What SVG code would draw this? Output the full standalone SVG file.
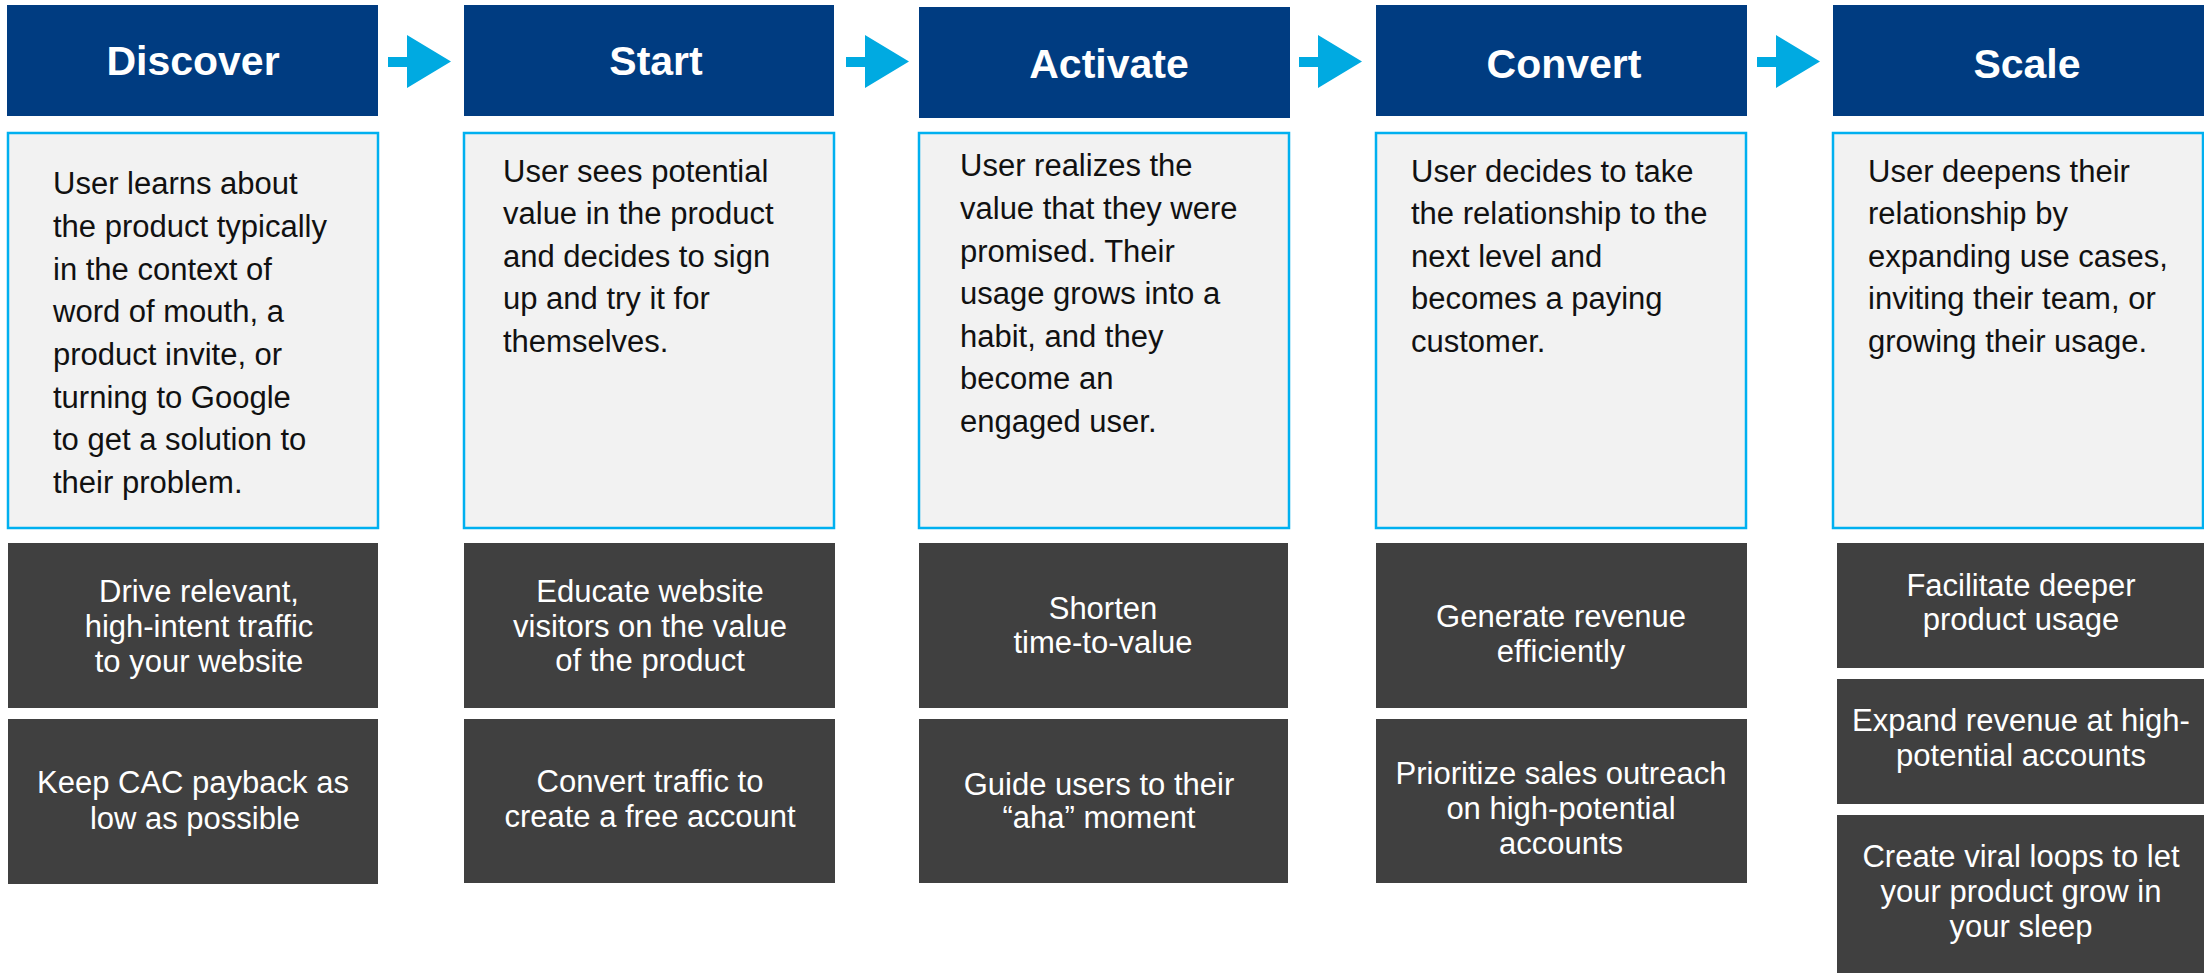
<svg xmlns="http://www.w3.org/2000/svg" width="2204" height="973" viewBox="0 0 2204 973">
<style>
.hdr{fill:#003C81}
.hdrt{fill:#ffffff;font-family:"Liberation Sans",Arial,sans-serif;font-weight:bold;font-size:41px;text-anchor:middle}
.desc{fill:#F2F2F2;stroke:#00B0F0;stroke-width:2.5}
.dt{fill:#111111;font-family:"Liberation Sans",Arial,sans-serif;font-size:31px}
.dark{fill:#404040}
.wt{fill:#ffffff;font-family:"Liberation Sans",Arial,sans-serif;font-size:31px;text-anchor:middle}
.arr{fill:#00AAE1}
</style>
<defs>
<path id="arrow" d="M0,57 H19 V35 L63,61.5 L19,88 V67 H0 Z"/>
</defs>
<rect width="2204" height="973" fill="#ffffff"/>

<g id="connectors">
<use href="#arrow" class="arr" x="388" y="0"/>
<use href="#arrow" class="arr" x="846" y="0"/>
<use href="#arrow" class="arr" x="1299" y="0"/>
<use href="#arrow" class="arr" x="1757" y="0"/>
</g>

<g id="discover">
<rect class="hdr" x="7" y="5" width="371" height="111"/>
<text class="hdrt" x="193" y="75">Discover</text>
<rect class="desc" x="8" y="133" width="370" height="395"/>
<text class="dt" x="53" y="194">User learns about</text>
<text class="dt" x="53" y="237">the product typically</text>
<text class="dt" x="53" y="280">in the context of</text>
<text class="dt" x="53" y="322">word of mouth, a</text>
<text class="dt" x="53" y="365">product invite, or</text>
<text class="dt" x="53" y="408">turning to Google</text>
<text class="dt" x="53" y="450">to get a solution to</text>
<text class="dt" x="53" y="493">their problem.</text>
<rect class="dark" x="8" y="543" width="370" height="165"/>
<text class="wt" x="199" y="602">Drive relevant,</text>
<text class="wt" x="199" y="637">high-intent traffic</text>
<text class="wt" x="199" y="672">to your website</text>
<rect class="dark" x="8" y="719" width="370" height="165"/>
<text class="wt" x="193" y="793">Keep CAC payback as</text>
<text class="wt" x="195" y="829">low as possible</text>
</g>

<g id="start">
<rect class="hdr" x="464" y="5" width="370" height="111"/>
<text class="hdrt" x="656" y="75">Start</text>
<rect class="desc" x="464" y="133" width="370" height="395"/>
<text class="dt" x="503" y="182">User sees potential</text>
<text class="dt" x="503" y="224">value in the product</text>
<text class="dt" x="503" y="267">and decides to sign</text>
<text class="dt" x="503" y="309">up and try it for</text>
<text class="dt" x="503" y="352">themselves.</text>
<rect class="dark" x="464" y="543" width="371" height="165"/>
<text class="wt" x="650" y="602">Educate website</text>
<text class="wt" x="650" y="637">visitors on the value</text>
<text class="wt" x="650" y="671">of the product</text>
<rect class="dark" x="464" y="719" width="371" height="164"/>
<text class="wt" x="650" y="792">Convert traffic to</text>
<text class="wt" x="650" y="827">create a free account</text>
</g>

<g id="activate">
<rect class="hdr" x="919" y="7" width="371" height="111"/>
<text class="hdrt" x="1109" y="78">Activate</text>
<rect class="desc" x="919" y="133" width="370" height="395"/>
<text class="dt" x="960" y="176">User realizes the</text>
<text class="dt" x="960" y="219">value that they were</text>
<text class="dt" x="960" y="262">promised. Their</text>
<text class="dt" x="960" y="304">usage grows into a</text>
<text class="dt" x="960" y="347">habit, and they</text>
<text class="dt" x="960" y="389">become an</text>
<text class="dt" x="960" y="432">engaged user.</text>
<rect class="dark" x="919" y="543" width="369" height="165"/>
<text class="wt" x="1103" y="619">Shorten</text>
<text class="wt" x="1103" y="653">time-to-value</text>
<rect class="dark" x="919" y="719" width="369" height="164"/>
<text class="wt" x="1099" y="795">Guide users to their</text>
<text class="wt" x="1099" y="828">“aha” moment</text>
</g>

<g id="convert">
<rect class="hdr" x="1376" y="5" width="371" height="111"/>
<text class="hdrt" x="1564" y="78">Convert</text>
<rect class="desc" x="1376" y="133" width="370" height="395"/>
<text class="dt" x="1411" y="182">User decides to take</text>
<text class="dt" x="1411" y="224">the relationship to the</text>
<text class="dt" x="1411" y="267">next level and</text>
<text class="dt" x="1411" y="309">becomes a paying</text>
<text class="dt" x="1411" y="352">customer.</text>
<rect class="dark" x="1376" y="543" width="371" height="165"/>
<text class="wt" x="1561" y="627">Generate revenue</text>
<text class="wt" x="1561" y="662">efficiently</text>
<rect class="dark" x="1376" y="719" width="371" height="164"/>
<text class="wt" x="1561" y="784">Prioritize sales outreach</text>
<text class="wt" x="1561" y="819">on high-potential</text>
<text class="wt" x="1561" y="854">accounts</text>
</g>

<g id="scale">
<rect class="hdr" x="1833" y="5" width="371" height="111"/>
<text class="hdrt" x="2027" y="78">Scale</text>
<rect class="desc" x="1833" y="133" width="370" height="395"/>
<text class="dt" x="1868" y="182">User deepens their</text>
<text class="dt" x="1868" y="224">relationship by</text>
<text class="dt" x="1868" y="267">expanding use cases,</text>
<text class="dt" x="1868" y="309">inviting their team, or</text>
<text class="dt" x="1868" y="352">growing their usage.</text>
<rect class="dark" x="1837" y="543" width="367" height="125"/>
<text class="wt" x="2021" y="596">Facilitate deeper</text>
<text class="wt" x="2021" y="630">product usage</text>
<rect class="dark" x="1837" y="679" width="367" height="125"/>
<text class="wt" x="2021" y="731">Expand revenue at high-</text>
<text class="wt" x="2021" y="766">potential accounts</text>
<rect class="dark" x="1837" y="815" width="367" height="158"/>
<text class="wt" x="2021" y="867">Create viral loops to let</text>
<text class="wt" x="2021" y="902">your product grow in</text>
<text class="wt" x="2021" y="937">your sleep</text>
</g>
</svg>
